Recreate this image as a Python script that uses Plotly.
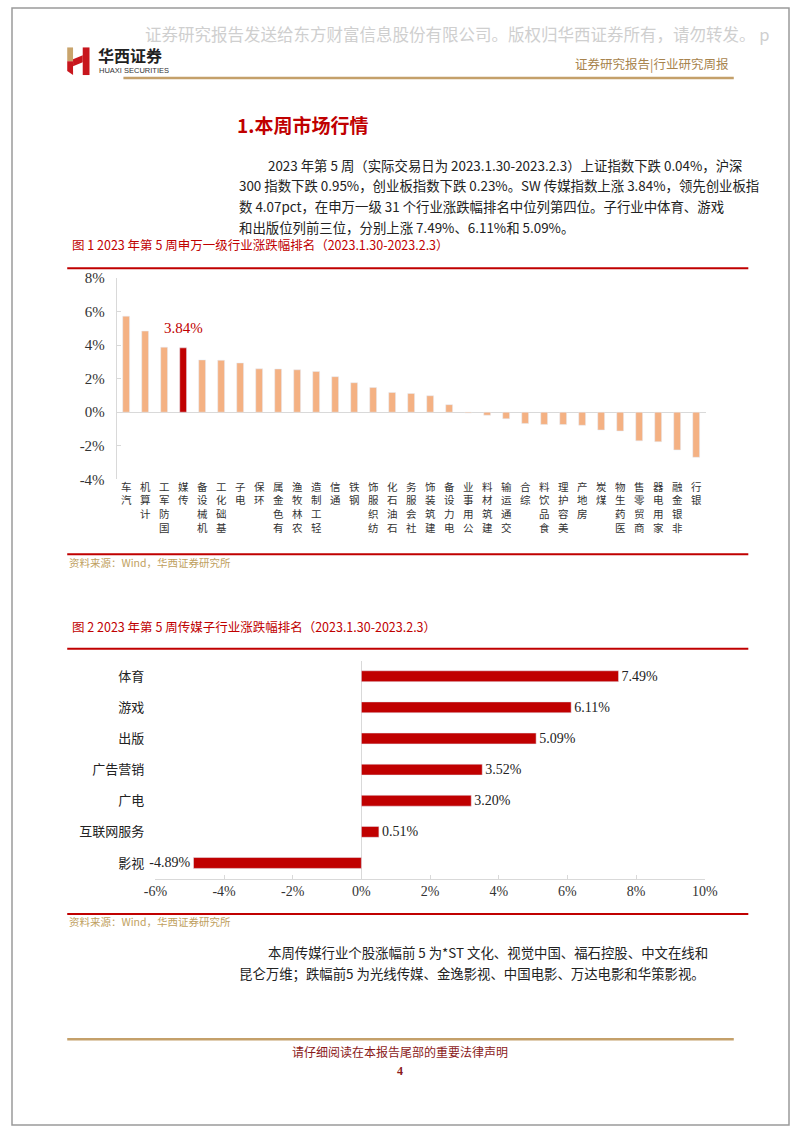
import plotly.graph_objects as go

W, H = 802, 1133

# 图1 申万一级行业涨跌幅 (%)
industries = ['汽车', '计算机', '国防军工', '传媒', '机械设备', '基础化工', '电子', '环保',
              '有色金属', '农林牧渔', '轻工制造', '通信', '钢铁', '纺织服饰', '石油石化',
              '社会服务', '建筑装饰', '电力设备', '公用事业', '建筑材料', '交通运输', '综合',
              '食品饮料', '美容护理', '房地产', '煤炭', '医药生物', '商贸零售', '家用电器',
              '非银金融', '银行']
industry_chg = [5.73, 4.84, 3.88, 3.84, 3.12, 3.10, 2.94, 2.59, 2.58, 2.53, 2.43, 2.12,
                1.76, 1.47, 1.18, 1.12, 0.98, 0.45, -0.05, -0.18, -0.39, -0.67, -0.73,
                -0.74, -0.78, -1.06, -1.12, -1.71, -1.76, -2.25, -2.69]
highlight = '传媒'
y1_ticks = [-4, -2, 0, 2, 4, 6, 8]

# 图2 传媒子行业涨跌幅 (%)
sub_industries = ['体育', '游戏', '出版', '广告营销', '广电', '互联网服务', '影视']
sub_chg = [7.49, 6.11, 5.09, 3.52, 3.20, 0.51, -4.89]
x2_ticks = [-6, -4, -2, 0, 2, 4, 6, 8, 10]

RED = '#C00000'
PEACH = '#F4B183'
GOLD = '#C4A06A'
GREY = '#D9D9D9'
CJK = 'Noto Sans CJK SC'
SERIF = 'Liberation Serif'


def px(x):
    return x / W


def py(y):
    return 1 - y / H


def text(s, x, y, size=13, color='#222', anchor='left', family=CJK):
    fig.add_annotation(text=s, x=px(x), y=py(y), xref='paper', yref='paper',
                       xanchor=anchor, yanchor='middle', showarrow=False,
                       font=dict(size=size, color=color, family=family))


def hline(y, x0, x1, color, width=2):
    fig.add_shape(type='line', xref='paper', yref='paper', x0=px(x0), x1=px(x1),
                  y0=py(y), y1=py(y), line=dict(color=color, width=width))


def stack(label):
    # vertical label, characters upright, reading bottom-to-top
    return '<br>'.join(reversed(list(label)))


fig = go.Figure()

fig.add_trace(go.Bar(
    x=industries, y=industry_chg, width=0.36,
    marker_color=[RED if n == highlight else PEACH for n in industries],
    xaxis='x', yaxis='y', hoverinfo='x+y'))

fig.add_trace(go.Bar(
    x=sub_chg, y=sub_industries, orientation='h', width=0.35,
    marker_color=RED, xaxis='x2', yaxis='y2',
    text=[f'{v:.2f}%' for v in sub_chg], textposition='outside', cliponaxis=False,
    constraintext='none',
    textfont=dict(family=SERIF, size=14, color='#222')))

hi = industries.index(highlight)
fig.add_annotation(x=highlight, y=industry_chg[hi], xref='x', yref='y', yshift=20,
                   text=f'{industry_chg[hi]:.2f}%', showarrow=False,
                   font=dict(family=SERIF, size=15, color=RED))

fig.update_layout(
    width=W, height=H, margin=dict(l=0, r=0, t=0, b=0),
    paper_bgcolor='white', plot_bgcolor='white', showlegend=False,
    xaxis=dict(domain=[px(108), px(716)], type='category',
               tickvals=industries, ticktext=[stack(n) for n in industries],
               tickfont=dict(family=CJK, size=10.5, color='#333'),
               showline=False, showgrid=False, ticks='', tickangle=0),
    yaxis=dict(domain=[py(478), py(274)], range=[-4, 8],
               tickvals=y1_ticks, ticktext=[f'{v}%' for v in y1_ticks],
               tickfont=dict(family=SERIF, size=15, color='#333'),
               showline=True, linecolor=GREY, ticks='inside', ticklen=4, tickcolor=GREY,
               showgrid=False, zeroline=True, zerolinecolor=GREY, zerolinewidth=1,
               ticklabelstandoff=8),
    xaxis2=dict(domain=[px(148), px(715)], range=[-6, 10], anchor='y2',
                tickvals=x2_ticks, ticktext=[f'{v}%' for v in x2_ticks],
                tickfont=dict(family=SERIF, size=14, color='#333'),
                showline=True, linecolor=GREY, ticks='inside', ticklen=4, tickcolor=GREY,
                showgrid=False, zeroline=True, zerolinecolor=GREY, zerolinewidth=1),
    yaxis2=dict(domain=[py(883), py(662)], anchor='x2', type='category',
                autorange='reversed', showline=False, showgrid=False, ticks='',
                tickfont=dict(family=CJK, size=13, color='#222'),
                ticklabelstandoff=10),
)

# page frame
fig.add_shape(type='rect', xref='paper', yref='paper', x0=0, x1=1, y0=0, y1=1,
              line=dict(color='#9A9A9A', width=1.5))

# header
text('证券研究报告发送给东方财富信息股份有限公司。版权归华西证券所有，请勿转发。 p',
     135, 26, size=16.5, color='#CFCFCF')
fig.add_shape(type='path', xref='paper', yref='paper',
              path=f'M {px(57)} {py(40)} L {px(63)} {py(40)} L {px(63)} {py(54)} '
                   f'L {px(57)} {py(54)} Z', fillcolor='#C9A46C', line_width=0)
fig.add_shape(type='path', xref='paper', yref='paper',
              path=f'M {px(57)} {py(54)} L {px(63)} {py(54)} L {px(63)} {py(68)} '
                   f'L {px(57)} {py(64)} Z', fillcolor='#C8161D', line_width=0)
fig.add_shape(type='path', xref='paper', yref='paper',
              path=f'M {px(63)} {py(52)} L {px(73)} {py(48)} L {px(73)} {py(55)} '
                   f'L {px(63)} {py(59)} Z', fillcolor='#C8161D', line_width=0)
fig.add_shape(type='path', xref='paper', yref='paper',
              path=f'M {px(73)} {py(40)} L {px(80)} {py(40)} L {px(80)} {py(68)} '
                   f'L {px(73)} {py(68)} Z', fillcolor='#C8161D', line_width=0)
text('<b>华西证券</b>', 87, 48, size=16, color='#222')
text('HUAXI SECURITIES', 88, 63, size=7.5, color='#333', family='Liberation Sans Narrow, Liberation Sans')
text('证券研究报告|行业研究周报', 742, 56, size=12.5, color='#A8844E', anchor='right')
hline(71, 115, 745, GOLD, 2.5)

text('<b>1.本周市场行情</b>', 230, 118, size=19, color=RED)
para1 = ['2023 年第 5 周（实际交易日为 2023.1.30-2023.2.3）上证指数下跌 0.04%，沪深',
         '300 指数下跌 0.95%，创业板指数下跌 0.23%。SW 传媒指数上涨 3.84%，领先创业板指',
         '数 4.07pct，在申万一级 31 个行业涨跌幅排名中位列第四位。子行业中体育、游戏',
         '和出版位列前三位，分别上涨 7.49%、6.11%和 5.09%。']
for i, line in enumerate(para1):
    text(line, 262 if i == 0 else 232, 159 + 21 * i, size=13.4)

# figure 1 frame
text('图 1 2023 年第 5 周申万一级行业涨跌幅排名（2023.1.30-2023.2.3）', 60, 240, size=12.5, color=RED)
hline(264, 57, 760, RED)
hline(554, 57, 760, RED)
text('资料来源：Wind，华西证券研究所', 57, 562, size=10.5, color='#BF9F60')

# figure 2 frame
text('图 2 2023 年第 5 周传媒子行业涨跌幅排名（2023.1.30-2023.2.3）', 60, 627, size=12.5, color=RED)
hline(650, 57, 760, RED)
hline(919, 57, 760, RED)
text('资料来源：Wind，华西证券研究所', 57, 927, size=10.5, color='#BF9F60')

para2 = ['本周传媒行业个股涨幅前 5 为*ST 文化、视觉中国、福石控股、中文在线和',
         '昆仑万维；跌幅前5 为光线传媒、金逸影视、中国电影、万达电影和华策影视。']
for i, line in enumerate(para2):
    text(line, 262 if i == 0 else 232, 958 + 21 * i, size=13.4)

# footer
hline(1046, 57, 745, GOLD, 2.5)
text('请仔细阅读在本报告尾部的重要法律声明', 400, 1058, size=12, color='#8B1A1A', anchor='center')
text('<b>4</b>', 400, 1078, size=12, color='#8B1A1A', anchor='center', family=SERIF)

fig.write_html('out.html', config={'displayModeBar': False},
               post_script="document.body.style.margin='0';"
                           "document.body.style.overflow='hidden';")
